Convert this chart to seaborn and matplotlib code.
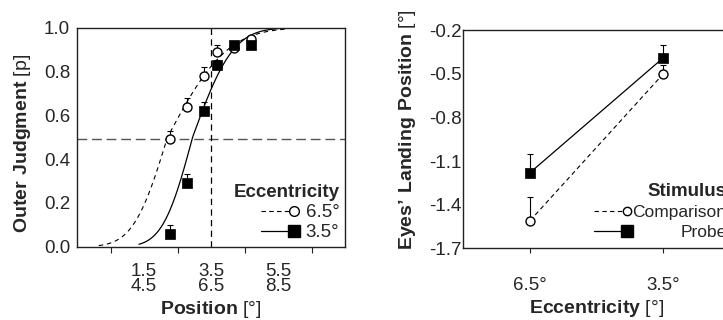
import math
import numpy as np
import pandas as pd
import matplotlib
matplotlib.use("Agg")
import matplotlib.pyplot as plt
from matplotlib.lines import Line2D
from matplotlib.legend_handler import HandlerLine2D
import seaborn as sns

# ---- left panel: outer judgments vs. position ----
positions = [2.27, 2.77, 3.29, 3.69, 4.19, 4.69]
judg_65 = [0.49, 0.64, 0.78, 0.89, 0.91, 0.95]
err_65 = [0.04, 0.04, 0.04, 0.033, 0.01, 0.01]
judg_35 = [0.06, 0.29, 0.62, 0.83, 0.92, 0.92]
err_35 = [0.04, 0.04, 0.04, 0.025, 0.01, 0.01]

# fitted psychometric functions (split cumulative normal: mu, sigma low, sigma high, x range)
fit_65 = dict(mu=2.2, sd_lo=0.8, sd_hi=1.4, x0=0.15, x1=5.7)
fit_35 = dict(mu=2.95, sd_lo=0.7, sd_hi=0.95, x0=1.35, x1=5.5)

pos_ticks = [1.5, 3.5, 5.5]
pos_ticklabels = ["1.5\n4.5", "3.5\n6.5", "5.5\n8.5"]
pos_minor = [0.5, 2.5, 4.5, 6.5]
pse_level = 0.49
ref_position = 3.5

# ---- right panel: landing position vs. eccentricity ----
ecc_labels = ["6.5°", "3.5°"]
land_comparison = [-1.51, -0.50]
err_comparison = [0.16, 0.06]
land_probe = [-1.18, -0.39]
err_probe = [0.13, 0.085]
land_ticks = [-0.2, -0.5, -0.8, -1.1, -1.4, -1.7]


def fit_curve(p):
    xs = np.linspace(p["x0"], p["x1"], 200)
    ys = []
    for x in xs:
        sd = p["sd_lo"] if x < p["mu"] else p["sd_hi"]
        ys.append(0.5 * (1 + math.erf((x - p["mu"]) / (sd * math.sqrt(2)))))
    return pd.DataFrame({"x": xs, "y": ys})


class EndMarker(HandlerLine2D):
    # line with the marker sitting at its right end
    def create_artists(self, *args, **kwargs):
        arts = super().create_artists(*args, **kwargs)
        for a in arts:
            n = len(a.get_xdata())
            if a.get_marker() not in (None, "None", ""):
                a.set_markevery([n - 1])
        return arts


sns.set_style("ticks")
plt.rcParams["font.family"] = ["Liberation Sans", "DejaVu Sans"]
plt.rcParams["mathtext.fontset"] = "custom"
plt.rcParams["mathtext.rm"] = "Liberation Sans"
plt.rcParams["mathtext.bf"] = "Liberation Sans:bold"
plt.rcParams["axes.unicode_minus"] = False

fig = plt.figure(figsize=(7.23, 3.2), dpi=100)
ax1 = fig.add_axes([0.1065, 0.229, 0.3707, 0.684])
ax2 = fig.add_axes([0.6408, 0.224, 0.369, 0.682])

TICK_FS = 13.5
LAB_FS = 14
SPINE = "#222222"

# left panel
ax1.axhline(pse_level, color="#555555", lw=1.0, ls=(0, (7, 3.5)), zorder=1)
ax1.axvline(ref_position, color="black", lw=0.9, ls=(0, (5, 3.5)), zorder=1)

c65 = fit_curve(fit_65)
c35 = fit_curve(fit_35)
sns.lineplot(data=c65, x="x", y="y", ax=ax1, color="black", lw=0.8,
             linestyle=(0, (4, 3.5)), zorder=2)
sns.lineplot(data=c35, x="x", y="y", ax=ax1, color="black", lw=0.9, zorder=2)

ax1.errorbar(positions, judg_65, yerr=[np.zeros(6), err_65], fmt="none",
             ecolor="black", elinewidth=0.8, capsize=2, capthick=0.8, zorder=3)
ax1.errorbar(positions, judg_35, yerr=[np.zeros(6), err_35], fmt="none",
             ecolor="black", elinewidth=0.8, capsize=2, capthick=0.8, zorder=3)
sns.scatterplot(x=positions, y=judg_65, ax=ax1, marker="o", s=42,
                facecolor="white", edgecolor="black", linewidth=1.0, zorder=4)
sns.scatterplot(x=positions, y=judg_35, ax=ax1, marker="s", s=58,
                color="black", edgecolor="black", linewidth=0.5, zorder=5)

ax1.set_xlim(-0.5, 7.5)
ax1.set_ylim(0, 1.0)
ax1.set_yticks([0.0, 0.2, 0.4, 0.6, 0.8, 1.0])
ax1.set_yticklabels(["0.0", "0.2", "0.4", "0.6", "0.8", "1.0"])
ax1.set_xticks(pos_ticks)
ax1.set_xticklabels(pos_ticklabels)
ax1.set_xticks(pos_minor, minor=True)
for lab in ax1.get_xticklabels():
    lab.set_linespacing(0.78)
ax1.tick_params(axis="x", which="major", length=0, pad=12, labelsize=TICK_FS)
ax1.tick_params(axis="x", which="minor", length=4, width=0.8, color=SPINE)
ax1.tick_params(axis="y", length=0, pad=5, labelsize=TICK_FS)
ax1.set_xlabel(r"$\mathbf{Position}$ [°]", fontsize=LAB_FS, labelpad=3.5)
ax1.set_ylabel(r"$\mathbf{Outer\ Judgment}$ [p]", fontsize=LAB_FS)
ax1.yaxis.set_label_coords(-0.163, 0.47)

h65 = Line2D([], [], color="black", lw=0.8, ls=(0, (4, 3)), marker="o", ms=7,
             mfc="white", mec="black", mew=1.0)
h35 = Line2D([], [], color="black", lw=0.9, marker="s", ms=8, mfc="black",
             mec="black")
leg1 = ax1.legend([h65, h35], ["6.5°", "3.5°"], title="Eccentricity",
                  loc="lower right", frameon=False, fontsize=TICK_FS,
                  title_fontproperties={"weight": "bold", "size": TICK_FS},
                  alignment="right", handlelength=1.8, handletextpad=0.6,
                  labelspacing=0.15, borderaxespad=0.1, borderpad=0.2,
                  handler_map={Line2D: EndMarker()})

# right panel
xs = [0, 1]
sns.lineplot(x=xs, y=land_comparison, ax=ax2, color="black", lw=0.8,
             linestyle=(0, (4, 3)), zorder=2)
sns.lineplot(x=xs, y=land_probe, ax=ax2, color="black", lw=0.9, zorder=2)
ax2.errorbar(xs, land_comparison, yerr=[np.zeros(2), err_comparison], fmt="none",
             ecolor="black", elinewidth=0.8, capsize=2, capthick=0.8, zorder=3)
ax2.errorbar(xs, land_probe, yerr=[np.zeros(2), err_probe], fmt="none",
             ecolor="black", elinewidth=0.8, capsize=2, capthick=0.8, zorder=3)
sns.scatterplot(x=xs, y=land_comparison, ax=ax2, marker="o", s=42,
                facecolor="white", edgecolor="black", linewidth=1.0, zorder=4)
sns.scatterplot(x=xs, y=land_probe, ax=ax2, marker="s", s=58,
                color="black", edgecolor="black", linewidth=0.5, zorder=5)

ax2.set_xlim(-0.5, 1.5)
ax2.set_ylim(-1.7, -0.2)
ax2.set_yticks(land_ticks)
ax2.set_yticklabels([f"{v:.1f}" for v in land_ticks])
ax2.set_xticks(xs)
ax2.set_xticklabels(ecc_labels)
ax2.tick_params(axis="x", length=3.5, width=0.8, color=SPINE, pad=17, labelsize=TICK_FS)
ax2.tick_params(axis="y", length=0, pad=1, labelsize=TICK_FS)
ax2.set_xlabel(r"$\mathbf{Eccentricity}$ [°]", fontsize=LAB_FS, labelpad=3)
ax2.set_ylabel(r"$\mathbf{Eyes’\ Landing\ Position}$ [°]", fontsize=LAB_FS)
ax2.yaxis.set_label_coords(-0.17, 0.545)

hc = Line2D([], [], color="black", lw=0.8, ls=(0, (4, 3)), marker="o", ms=6,
            mfc="white", mec="black", mew=1.0)
hp = Line2D([], [], color="black", lw=0.9, marker="s", ms=8, mfc="black",
            mec="black")
leg2 = ax2.legend([hc, hp], ["Comparison", "Probe"], title="Stimulus",
                  loc="lower right", bbox_to_anchor=(1.0, 0.02),
                  frameon=False, fontsize=12.5,
                  title_fontproperties={"weight": "bold", "size": TICK_FS},
                  alignment="right", handlelength=1.9, handletextpad=0.35,
                  labelspacing=0.3, borderaxespad=0.0, borderpad=0.2,
                  handler_map={Line2D: EndMarker()})

for ax in (ax1, ax2):
    for sp in ax.spines.values():
        sp.set_visible(True)
        sp.set_color(SPINE)
        sp.set_linewidth(1.0)

# right-align the legend labels of the right panel
fig.canvas.draw()
texts = leg2.get_texts()
right_edge = max(t.get_window_extent().x1 for t in texts)
for t in texts:
    t.set_x(right_edge - t.get_window_extent().x1)

fig.savefig("out.png", dpi=100)
